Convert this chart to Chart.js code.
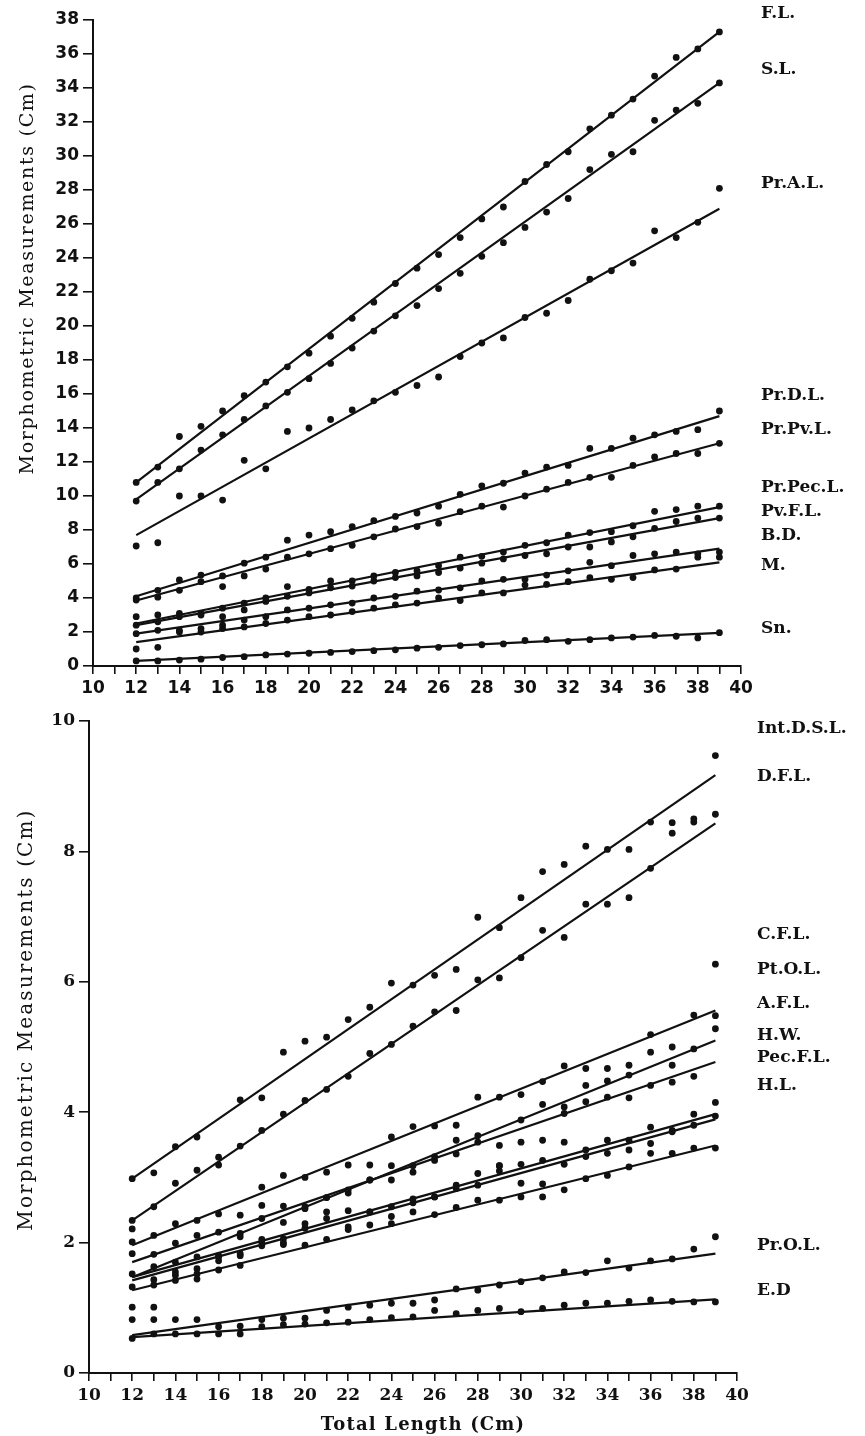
<!DOCTYPE html>
<html lang="en">
<head>
  <meta charset="UTF-8">
  <title>Morphometric Measurements vs Total Length</title>
  <script src="https://cdn.jsdelivr.net/npm/chart.js"></script>
  <style>
    body {
      margin: 0;
      background: #fff;
    }
    #wrap {
      position: relative;
      width: 865px;
      height: 1436px;
    }
    canvas {
      position: absolute;
      left: 0;
    }
    #grafico-cima { top: 0; }
    #grafico-baixo { top: 705px; }
  </style>
</head>
<body>
  <div id="wrap">
    <canvas id="grafico-cima" width="865" height="716"></canvas>
    <canvas id="grafico-baixo" width="865" height="731"></canvas>
  </div>

  <script>
    // total length (cm), same for every series
    const totalLength = [12, 13, 14, 15, 16, 17, 18, 19, 20, 21, 22, 23, 24, 25, 26, 27, 28, 29, 30, 31, 32, 33, 34, 35, 36, 37, 38, 39];

    // ---- upper panel ----
    const topNames = ["F.L.", "S.L.", "Pr.A.L.", "Pr.D.L.", "Pr.Pv.L.", "Pr.Pec.L.", "Pv.F.L.", "B.D.", "M.", "Sn."];
    const topYTicks = [0, 2, 4, 6, 8, 10, 12, 14, 16, 18, 20, 22, 24, 26, 28, 30, 32, 34, 36, 38];

    const fl = [10.8, 11.7, 13.5, 14.1, 15.0, 15.9, 16.7, 17.6, 18.4, 19.4, 20.45, 21.4, 22.5, 23.4, 24.2, 25.2, 26.3, 27.0, 28.5, 29.5, 30.25, 31.6, 32.4, 33.35, 34.7, 35.8, 36.3, 37.3];
    const sl = [9.7, 10.8, 11.6, 12.7, 13.6, 14.5, 15.3, 16.1, 16.9, 17.8, 18.7, 19.7, 20.6, 21.2, 22.2, 23.1, 24.1, 24.9, 25.8, 26.7, 27.5, 29.2, 30.1, 30.25, 32.1, 32.7, 33.1, 34.3];
    const prAL = [7.06, 7.25, 10.0, 10.0, 9.76, 12.1, 11.6, 13.8, 14.0, 14.5, 15.06, 15.6, 16.1, 16.5, 17.0, 18.2, 19.0, 19.3, 20.5, 20.75, 21.5, 22.75, 23.25, 23.7, 25.6, 25.2, 26.1, 28.1];
    const prDL = [4.0, 4.45, 5.06, 5.35, 5.3, 6.05, 6.4, 7.4, 7.7, 7.9, 8.2, 8.55, 8.8, 9.0, 9.4, 10.1, 10.6, 10.75, 11.35, 11.7, 11.8, 12.8, 12.8, 13.4, 13.6, 13.8, 13.9, 15.0];
    const prPvL = [3.88, 4.05, 4.45, 4.96, 4.67, 5.3, 5.7, 6.4, 6.6, 6.9, 7.1, 7.6, 8.06, 8.2, 8.4, 9.08, 9.4, 9.35, 10.0, 10.4, 10.8, 11.1, 11.1, 11.8, 12.3, 12.5, 12.5, 13.1];
    const prPecL = [2.9, 3.0, 3.1, 3.1, 3.4, 3.7, 4.0, 4.67, 4.5, 5.0, 5.0, 5.3, 5.5, 5.6, 5.9, 6.4, 6.45, 6.7, 7.1, 7.25, 7.7, 7.85, 7.9, 8.25, 9.1, 9.2, 9.4, 9.4];
    const pvFL = [2.4, 2.6, 2.9, 3.0, 2.9, 3.3, 3.8, 4.1, 4.3, 4.6, 4.7, 5.0, 5.2, 5.3, 5.5, 5.76, 6.05, 6.3, 6.5, 6.6, 7.0, 7.0, 7.3, 7.6, 8.1, 8.5, 8.7, 8.7];
    const bd = [1.9, 2.1, 2.1, 2.2, 2.4, 2.7, 2.9, 3.3, 3.4, 3.6, 3.7, 4.0, 4.1, 4.4, 4.47, 4.6, 5.0, 5.1, 5.1, 5.35, 5.6, 6.1, 5.9, 6.5, 6.6, 6.7, 6.6, 6.7];
    const m = [1.0, 1.1, 2.0, 2.0, 2.2, 2.3, 2.5, 2.7, 2.9, 3.0, 3.2, 3.4, 3.6, 3.7, 4.0, 3.85, 4.3, 4.3, 4.76, 4.8, 4.96, 5.2, 5.1, 5.2, 5.65, 5.7, 6.4, 6.4];
    const sn = [0.3, 0.3, 0.35, 0.4, 0.5, 0.55, 0.65, 0.7, 0.75, 0.8, 0.85, 0.9, 0.95, 1.05, 1.1, 1.2, 1.25, 1.3, 1.5, 1.55, 1.45, 1.55, 1.65, 1.7, 1.8, 1.75, 1.65, 1.96];

    // fitted lines: value at TL 12 and at TL 39
    const flFit = [10.8, 37.3];
    const slFit = [9.8, 34.3];
    const prALFit = [7.7, 26.9];
    const prDLFit = [4.1, 14.7];
    const prPvLFit = [3.85, 13.1];
    const prPecLFit = [2.5, 9.35];
    const pvFLFit = [2.4, 8.7];
    const bdFit = [1.9, 6.9];
    const mFit = [1.4, 6.1];
    const snFit = [0.3, 1.95];

    // ---- lower panel ----
    const bottomNames = ["Int.D.S.L.", "D.F.L.", "C.F.L.", "Pt.O.L.", "A.F.L.", "H.W.", "Pec.F.L.", "H.L.", "Pr.O.L.", "E.D"];
    const bottomYTicks = [0, 2, 4, 6, 8, 10];

    const intDSL = [2.98, 3.07, 3.47, 3.62, 3.31, 4.19, 4.22, 4.92, 5.09, 5.15, 5.42, 5.61, 5.98, 5.95, 6.1, 6.19, 6.99, 6.83, 7.29, 7.69, 7.8, 8.08, 8.03, 8.03, 8.45, 8.44, 8.5, 9.47];
    const dFL = [2.34, 2.55, 2.91, 3.11, 3.19, 3.48, 3.72, 3.97, 4.18, 4.35, 4.55, 4.9, 5.04, 5.32, 5.54, 5.56, 6.03, 6.06, 6.37, 6.79, 6.68, 7.19, 7.19, 7.29, 7.74, 8.28, 8.45, 8.57];
    const cFL = [2.21, 2.11, 2.29, 2.34, 2.44, 2.42, 2.85, 3.03, 3.0, 3.08, 3.19, 3.19, 3.62, 3.78, 3.79, 3.8, 4.23, 4.23, 4.27, 4.47, 4.71, 4.67, 4.67, 4.72, 5.19, 5.0, 5.49, 6.27];
    const ptOL = [1.83, 1.63, 1.7, 1.78, 1.78, 2.09, 2.37, 2.31, 2.55, 2.69, 2.81, 2.96, 3.18, 3.18, 3.32, 3.57, 3.64, 3.49, 3.88, 4.12, 4.08, 4.41, 4.48, 4.57, 4.92, 4.72, 4.97, 5.48];
    const aFL = [2.01, 1.82, 1.99, 2.11, 2.16, 2.14, 2.57, 2.56, 2.52, 2.69, 2.76, 2.96, 2.96, 3.08, 3.26, 3.36, 3.54, 3.18, 3.54, 3.57, 3.98, 4.16, 4.23, 4.22, 4.41, 4.46, 4.55, 5.28];
    const hW = [1.52, 1.43, 1.55, 1.6, 1.8, 1.83, 2.05, 2.0, 2.29, 2.47, 2.49, 2.47, 2.55, 2.67, 2.7, 2.88, 3.06, 3.18, 3.2, 3.26, 3.54, 3.42, 3.57, 3.57, 3.77, 3.72, 3.97, 4.15];
    const pecFL = [1.32, 1.35, 1.5, 1.52, 1.72, 1.8, 2.0, 2.06, 2.22, 2.37, 2.24, 2.47, 2.4, 2.61, 2.7, 2.83, 2.88, 3.1, 2.91, 2.9, 3.2, 3.32, 3.37, 3.42, 3.52, 3.7, 3.8, 3.94];
    const hL = [1.01, 1.01, 1.42, 1.44, 1.58, 1.65, 1.95, 1.97, 1.96, 2.05, 2.2, 2.27, 2.29, 2.47, 2.43, 2.54, 2.65, 2.65, 2.7, 2.7, 2.81, 2.98, 3.03, 3.16, 3.37, 3.37, 3.45, 3.45];
    const prOL = [0.82, 0.82, 0.82, 0.82, 0.71, 0.72, 0.82, 0.84, 0.84, 0.96, 1.01, 1.04, 1.07, 1.07, 1.12, 1.29, 1.27, 1.35, 1.4, 1.46, 1.55, 1.54, 1.72, 1.61, 1.72, 1.75, 1.9, 2.09];
    const eD = [0.53, 0.6, 0.6, 0.6, 0.6, 0.6, 0.71, 0.74, 0.75, 0.77, 0.78, 0.82, 0.85, 0.86, 0.96, 0.91, 0.96, 0.99, 0.94, 0.99, 1.04, 1.07, 1.07, 1.1, 1.12, 1.1, 1.09, 1.09];

    const intDSLFit = [2.98, 9.17];
    const dFLFit = [2.34, 8.43];
    const cFLFit = [1.96, 5.56];
    const ptOLFit = [1.47, 5.1];
    const aFLFit = [1.7, 4.77];
    const hWFit = [1.47, 3.97];
    const pecFLFit = [1.42, 3.89];
    const hLFit = [1.27, 3.49];
    const prOLFit = [0.58, 1.83];
    const eDFit = [0.55, 1.13];

    // layout bits (not data): where the side labels sit, in y units
    const topLabelAt = [38.35, 35.06, 28.35, 15.9, 13.9, 10.5, 9.06, 7.65, 5.9, 2.2];
    const bottomLabelAt = [9.89, 9.15, 6.73, 6.18, 5.67, 5.18, 4.84, 4.41, 1.96, 1.27];

    const INK = "#111";

    function montaDatasets(series, fits) {
      const ds = [];
      series.forEach((vals, i) => {
        ds.push({
          type: "scatter",
          data: totalLength.map((x, j) => ({ x: x, y: vals[j] })),
          pointRadius: 3.4,
          pointBackgroundColor: INK,
          pointBorderColor: INK,
          pointBorderWidth: 0
        });
        const f = fits[i];
        ds.push({
          type: "line",
          data: [
            { x: totalLength[0], y: f[0] },
            { x: totalLength[totalLength.length - 1], y: f[1] }
          ],
          borderColor: INK,
          borderWidth: 2.2,
          pointRadius: 0,
          fill: false,
          tension: 0
        });
      });
      return ds;
    }

    function desenha(canvasId, opts) {
      // text drawn by hand: rotated y title, names at the right, x title
      const textos = {
        id: "textos",
        afterDraw(chart) {
          const ctx = chart.ctx;
          const area = chart.chartArea;
          const ys = chart.scales.y;
          ctx.save();
          ctx.fillStyle = INK;

          ctx.font = opts.yTitleFont;
          ctx.letterSpacing = opts.yTitleSpacing;
          ctx.textAlign = "center";
          ctx.textBaseline = "middle";
          ctx.translate(opts.yTitleX, ys.getPixelForValue(opts.yTitleAt));
          ctx.rotate(-Math.PI / 2);
          ctx.fillText("Morphometric Measurements (Cm)", 0, 0);
          ctx.setTransform(1, 0, 0, 1, 0, 0);

          ctx.letterSpacing = "0px";
          ctx.font = "bold 17px 'DejaVu Serif'";
          ctx.textAlign = "left";
          opts.names.forEach((n, i) => {
            ctx.fillText(n, area.right + 20, ys.getPixelForValue(opts.labelAt[i]));
          });

          if (opts.xTitle) {
            ctx.font = "bold 18px 'DejaVu Serif'";
            ctx.letterSpacing = "1.2px";
            ctx.textAlign = "center";
            ctx.fillText(opts.xTitle, (area.left + area.right) / 2 + 10, area.bottom + 52);
          }
          ctx.restore();
        }
      };

      const tickFont = { family: opts.tickFamily, size: 17, weight: "bold" };
      const canvas = document.getElementById(canvasId);
      return new Chart(canvas.getContext("2d"), {
        type: "scatter",
        data: { datasets: montaDatasets(opts.series, opts.fits) },
        options: {
          responsive: false,
          animation: false,
          devicePixelRatio: 1,
          layout: { padding: { left: 0, right: opts.padRight, top: opts.padTop, bottom: 0 } },
          plugins: {
            legend: { display: false },
            tooltip: { enabled: false }
          },
          scales: {
            x: {
              type: "linear",
              min: 10,
              max: 40,
              afterFit(scale) { scale.height = opts.xHeight; },
              border: { display: true, color: INK, width: 2 },
              grid: { drawOnChartArea: false, drawTicks: true, tickLength: 8, color: INK, lineWidth: 1.6 },
              ticks: {
                stepSize: 1,
                autoSkip: false,
                maxRotation: 0,
                padding: 4,
                color: INK,
                font: tickFont,
                callback: v => (v % 2 === 0 ? v : "")
              }
            },
            y: {
              type: "linear",
              min: 0,
              max: opts.yTicks[opts.yTicks.length - 1],
              afterFit(scale) { scale.width = opts.left; },
              afterBuildTicks(scale) { scale.ticks = opts.yTicks.map(v => ({ value: v })); },
              border: { display: true, color: INK, width: 2 },
              grid: { drawOnChartArea: false, drawTicks: true, tickLength: 10, color: INK, lineWidth: 1.6 },
              ticks: {
                padding: 4,
                color: INK,
                font: tickFont
              }
            }
          }
        },
        plugins: [textos]
      });
    }

    desenha("grafico-cima", {
      series: [fl, sl, prAL, prDL, prPvL, prPecL, pvFL, bd, m, sn],
      fits: [flFit, slFit, prALFit, prDLFit, prPvLFit, prPecLFit, pvFLFit, bdFit, mFit, snFit],
      names: topNames,
      labelAt: topLabelAt,
      yTicks: topYTicks,
      left: 93,
      padRight: 124,
      padTop: 20,
      xHeight: 50,
      yTitleX: 28,
      yTitleAt: 22.8,
      yTitleFont: "19px 'DejaVu Serif'",
      yTitleSpacing: "1.7px",
      tickFamily: "'DejaVu Sans'"
    });

    desenha("grafico-baixo", {
      series: [intDSL, dFL, cFL, ptOL, aFL, hW, pecFL, hL, prOL, eD],
      fits: [intDSLFit, dFLFit, cFLFit, ptOLFit, aFLFit, hWFit, pecFLFit, hLFit, prOLFit, eDFit],
      names: bottomNames,
      labelAt: bottomLabelAt,
      yTicks: bottomYTicks,
      left: 89,
      padRight: 128,
      padTop: 16,
      xHeight: 63,
      yTitleX: 27,
      yTitleAt: 5.42,
      yTitleFont: "20px 'DejaVu Serif'",
      yTitleSpacing: "2.1px",
      tickFamily: "'DejaVu Serif'",
      xTitle: "Total Length (Cm)"
    });
  </script>
</body>
</html>
